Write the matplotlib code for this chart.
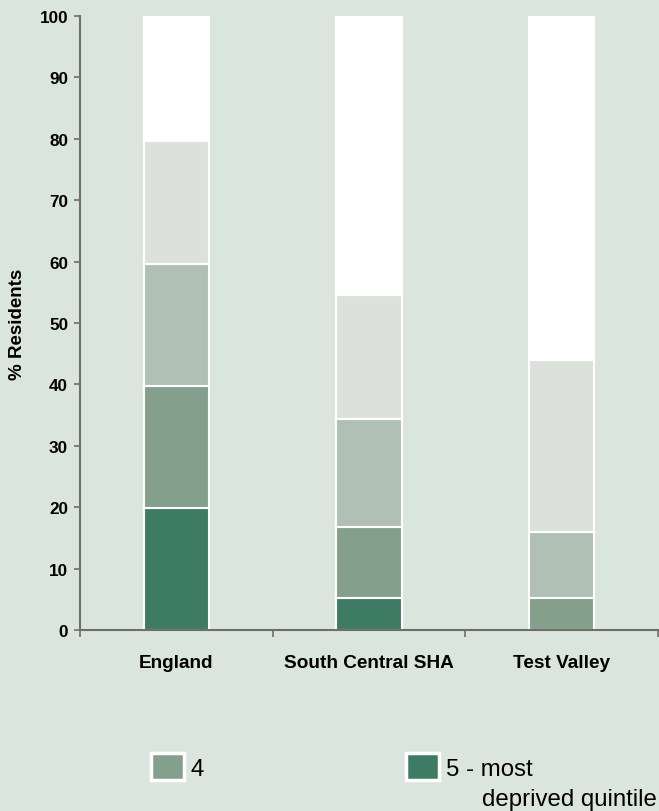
import matplotlib.pyplot as plt
from matplotlib.patches import Patch
import numpy as np

plt.rcParams['font.family'] = ['Liberation Sans', 'DejaVu Sans']

areas = ['England', 'South Central SHA', 'Test Valley']
# quintile shares, 5 = most deprived first
q5 = [19.9, 5.2, 0.0]
q4 = [19.8, 11.6, 5.2]
q3 = [19.9, 17.6, 10.7]
q2 = [20.0, 20.2, 28.1]
q1 = [20.4, 45.4, 56.0]

series = [q5, q4, q3, q2, q1]
colors = ['#3d7b64', '#84a08d', '#b1c0b4', '#dce1dc', '#ffffff']
bg = '#dae6dd'

fig = plt.figure(figsize=(6.59, 8.12), dpi=100, facecolor=bg)
ax = fig.add_axes([0.1214, 0.2229, 0.8771, 0.7561], facecolor=bg)

x = np.arange(len(areas))
bottom = np.zeros(len(areas))
for vals, c in zip(series, colors):
    vals = np.array(vals)
    ax.bar(x, vals, 0.34, bottom=bottom, color=c, edgecolor='white', linewidth=1.5, zorder=2)
    bottom += vals

ax.set_xlim(-0.5, 2.5)
ax.set_ylim(0, 100)
ax.set_yticks(range(0, 101, 10))
ax.set_yticklabels([str(v) for v in range(0, 101, 10)], fontsize=12.3, fontweight='bold')
ax.set_xticks([-0.5, 0.5, 1.5, 2.5])
ax.set_xticklabels([])
ax.set_xticks(x, minor=True)
ax.set_xticklabels(areas, minor=True, fontsize=13.7, fontweight='bold')
ax.tick_params(axis='x', which='minor', length=0, pad=17)
ax.tick_params(axis='x', which='major', length=5, color='#6e6e6e', width=1.2)
ax.tick_params(axis='y', length=4.5, color='#6e6e6e', width=1.2, pad=4)
for s in ['top', 'right']:
    ax.spines[s].set_visible(False)
for s in ['left', 'bottom']:
    ax.spines[s].set_color('#6e6e6e')
    ax.spines[s].set_linewidth(1.5)
ax.set_ylabel('% Residents', fontsize=13.5, fontweight='bold', labelpad=10)

handles = [Patch(facecolor=colors[1], edgecolor='white', linewidth=2.5),
           Patch(facecolor=colors[0], edgecolor='white', linewidth=2.5)]
fig.legend(handles, ['4', '5 - most'], ncol=2, frameon=False,
           loc='upper left', bbox_to_anchor=(0.229, 0.071), fontsize=17.3,
           handlelength=1.38, handleheight=1.33, handletextpad=0.28,
           columnspacing=8.4, borderpad=0, borderaxespad=0)
fig.text(0.731, 0.007, 'deprived quintile', fontsize=17.3, va='baseline', ha='left')

fig.savefig('out.png', dpi=100, facecolor=bg)
